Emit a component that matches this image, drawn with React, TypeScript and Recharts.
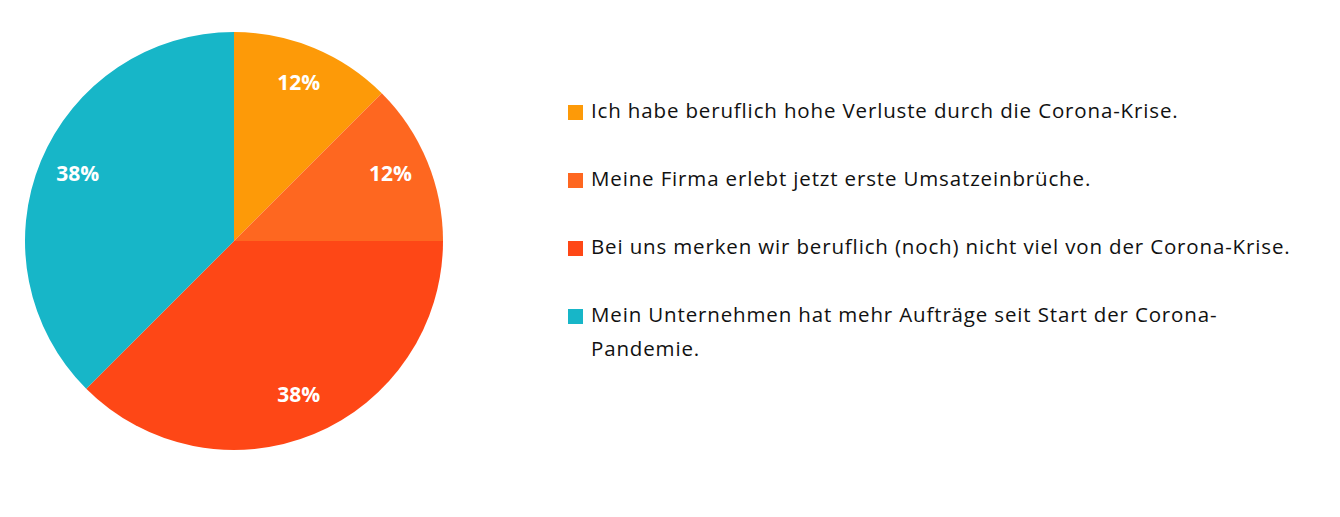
import React from "react";
import { PieChart, Pie, Cell, Legend } from "recharts";

const categories = [
  "Ich habe beruflich hohe Verluste durch die Corona-Krise.",
  "Meine Firma erlebt jetzt erste Umsatzeinbrüche.",
  "Bei uns merken wir beruflich (noch) nicht viel von der Corona-Krise.",
  "Mein Unternehmen hat mehr Aufträge seit Start der Corona-Pandemie.",
];
const values = [12.5, 12.5, 37.5, 37.5];
const valueLabels = ["12%", "12%", "38%", "38%"];
const colors = ["#FD9A08", "#FE6720", "#FE4716", "#17B6C8"];

const data = categories.map((name, i) => ({ name, value: values[i], label: valueLabels[i] }));

const FONT = "'Open Sans', sans-serif";

const renderLabel = (props: any) => {
  const { cx, cy, midAngle, outerRadius, index } = props;
  const r = outerRadius * 0.81;
  const rad = (Math.PI / 180) * midAngle;
  const x = cx + r * Math.cos(rad);
  const y = cy - r * Math.sin(rad) - 3;
  return (
    <text
      x={x}
      y={y}
      fill="#ffffff"
      textAnchor="middle"
      dominantBaseline="central"
      fontFamily={FONT}
      fontWeight={700}
      fontSize={21}
    >
      {valueLabels[index]}
    </text>
  );
};

const LegendContent = () => (
  <div style={{ fontFamily: FONT, fontSize: 20.5, letterSpacing: 0.85, color: "#111", lineHeight: "34px" }}>
    {data.map((d, i) => (
      <div key={i} style={{ display: "flex", alignItems: "flex-start", marginBottom: 34 }}>
        <span
          style={{
            display: "inline-block",
            width: 15,
            height: 15,
            background: colors[i],
            marginTop: 12,
            marginRight: 8,
            flex: "0 0 auto",
          }}
        />
        <span style={{ width: 712 }}>{d.name}</span>
      </div>
    ))}
  </div>
);

export default function App() {
  return (
    <div style={{ margin: -8, width: 1340, height: 517, background: "#fff" }}>
      <PieChart width={1340} height={517} margin={{ top: 0, right: 0, bottom: 0, left: 0 }}>
        <Pie
          data={data}
          dataKey="value"
          nameKey="name"
          cx={234}
          cy={241}
          outerRadius={209}
          startAngle={90}
          endAngle={-270}
          stroke="none"
          label={renderLabel}
          labelLine={false}
          isAnimationActive={false}
        >
          {data.map((d, i) => (
            <Cell key={i} fill={colors[i]} />
          ))}
        </Pie>
        <Legend
          content={<LegendContent />}
          wrapperStyle={{ position: "absolute", left: 568, top: 93, width: 760 }}
        />
      </PieChart>
    </div>
  );
}
